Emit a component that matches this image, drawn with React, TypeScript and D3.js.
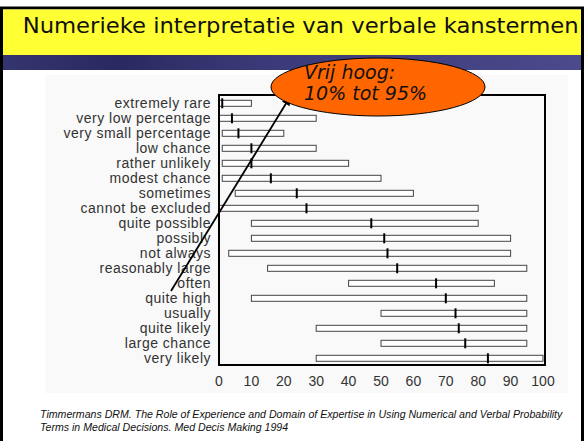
import React, { useEffect, useRef } from "react";
import * as d3 from "d3";

// verbal probability terms, top to bottom
const terms = [
  "extremely rare", "very low percentage", "very small percentage", "low chance",
  "rather unlikely", "modest chance", "sometimes", "cannot be excluded",
  "quite possible", "possibly", "not always", "reasonably large", "often",
  "quite high", "usually", "quite likely", "large chance", "very likely",
];
const lowValues = [0, 0, 1, 1, 1, 1, 5, 0, 10, 10, 3, 15, 40, 10, 50, 30, 50, 30];
const highValues = [10, 30, 20, 30, 40, 50, 60, 80, 80, 90, 90, 95, 85, 95, 95, 95, 95, 100];
const medianValues = [1, 4, 6, 10, 10, 16, 24, 27, 47, 51, 52, 55, 67, 70, 73, 74, 76, 83];
const xTicks = [0, 10, 20, 30, 40, 50, 60, 70, 80, 90, 100];

const titleText = "Numerieke interpretatie van verbale kanstermen";
const bubbleLines = ["Vrij hoog:", "10% tot 95%"];
const sourceLines = [
  "Timmermans DRM. The Role of Experience and Domain of Expertise in Using Numerical and Verbal Probability",
  "Terms in Medical Decisions. Med Decis Making 1994",
];

export default function App() {
  const ref = useRef<SVGSVGElement>(null);

  useEffect(() => {
    const svg = d3.select(ref.current);
    svg.selectAll("*").remove();

    const x = d3.scaleLinear().domain([0, 100]).range([219, 543]);
    const y = d3.scaleBand().domain(terms).range([95.8, 365.8]);
    const rows = terms.map((t, i) => ({ t, lo: lowValues[i], hi: highValues[i], med: medianValues[i] }));
    const mid = (t: string) => (y(t) as number) + y.bandwidth() / 2;

    const defs = svg.append("defs");
    const grad = defs.append("linearGradient").attr("id", "band").attr("x1", 0).attr("x2", 1);
    grad.append("stop").attr("offset", "0%").attr("stop-color", "#34346f");
    grad.append("stop").attr("offset", "20%").attr("stop-color", "#2a2a62");
    grad.append("stop").attr("offset", "45%").attr("stop-color", "#3a3a78");
    grad.append("stop").attr("offset", "100%").attr("stop-color", "#4a4a8c");
    defs.append("marker")
      .attr("id", "arrow").attr("viewBox", "0 0 10 10")
      .attr("refX", 9).attr("refY", 5)
      .attr("markerWidth", 5).attr("markerHeight", 5)
      .attr("orient", "auto")
      .append("path").attr("d", "M0,0 L10,5 L0,10 z").attr("fill", "black");

    // slide frame
    svg.append("rect").attr("width", 586).attr("height", 441).attr("fill", "white");
    svg.append("rect").attr("x", 1.5).attr("y", 8).attr("width", 581).attr("height", 440)
      .attr("fill", "white").attr("stroke", "black").attr("stroke-width", 3);
    svg.append("rect").attr("x", 3).attr("y", 9.5).attr("width", 578).attr("height", 45.5).attr("fill", "#ffff33");
    svg.append("rect").attr("x", 3).attr("y", 55).attr("width", 578).attr("height", 15).attr("fill", "url(#band)");

    svg.append("text")
      .attr("x", 22.7).attr("y", 32.5)
      .attr("font-family", "DejaVu Sans").attr("font-size", 22)
      .attr("textLength", 556).attr("lengthAdjust", "spacingAndGlyphs")
      .attr("fill", "#111")
      .text(titleText);

    // chart background
    svg.append("rect").attr("x", 45).attr("y", 75).attr("width", 523).attr("height", 318).attr("fill", "#f9f9f9");

    const g = svg.append("g");
    g.selectAll("text.term").data(rows).enter().append("text")
      .attr("class", "term")
      .attr("x", 211)
      .attr("y", d => mid(d.t) + 4.5)
      .attr("text-anchor", "end")
      .attr("font-family", "Liberation Sans").attr("font-size", 14)
      .attr("letter-spacing", 0.5)
      .attr("fill", "#333")
      .text(d => d.t);

    g.selectAll("rect.bar").data(rows).enter().append("rect")
      .attr("class", "bar")
      .attr("x", d => x(d.lo))
      .attr("y", d => mid(d.t) - 3)
      .attr("width", d => x(d.hi) - x(d.lo))
      .attr("height", 6)
      .attr("fill", "white").attr("stroke", "#444").attr("stroke-width", 1);

    g.selectAll("line.med").data(rows).enter().append("line")
      .attr("class", "med")
      .attr("x1", d => x(d.med)).attr("x2", d => x(d.med))
      .attr("y1", d => mid(d.t) - 5)
      .attr("y2", d => mid(d.t) + 5)
      .attr("stroke", "black").attr("stroke-width", 2);

    g.append("rect").attr("x", 219).attr("y", 95).attr("width", 326).attr("height", 270)
      .attr("fill", "none").attr("stroke", "black").attr("stroke-width", 2);

    g.selectAll("text.tick").data(xTicks).enter().append("text")
      .attr("class", "tick")
      .attr("x", d => x(d)).attr("y", 385.5)
      .attr("text-anchor", "middle")
      .attr("font-family", "Liberation Sans").attr("font-size", 14)
      .attr("fill", "#333")
      .text(d => d);

    // callout
    svg.append("line").attr("x1", 171).attr("y1", 291).attr("x2", 290).attr("y2", 97)
      .attr("stroke", "black").attr("stroke-width", 1.8).attr("marker-end", "url(#arrow)");
    svg.append("ellipse").attr("cx", 378).attr("cy", 87).attr("rx", 107).attr("ry", 29)
      .attr("fill", "#ff6600").attr("stroke", "black").attr("stroke-width", 1);
    svg.selectAll("text.bubble").data(bubbleLines).enter().append("text")
      .attr("class", "bubble")
      .attr("x", 304).attr("y", (d, i) => 79 + i * 21)
      .attr("font-family", "DejaVu Sans").attr("font-style", "italic").attr("font-size", 19)
      .attr("fill", "#111")
      .text(d => d);

    svg.selectAll("text.source").data(sourceLines).enter().append("text")
      .attr("class", "source")
      .attr("x", 40).attr("y", (d, i) => 418 + i * 12.5)
      .attr("font-family", "Liberation Sans").attr("font-style", "italic").attr("font-size", 10.6)
      .attr("fill", "#111")
      .text(d => d);
  }, []);

  return (
    <svg ref={ref} width={586} height={441} style={{ position: "absolute", left: 0, top: 0 }} />
  );
}
